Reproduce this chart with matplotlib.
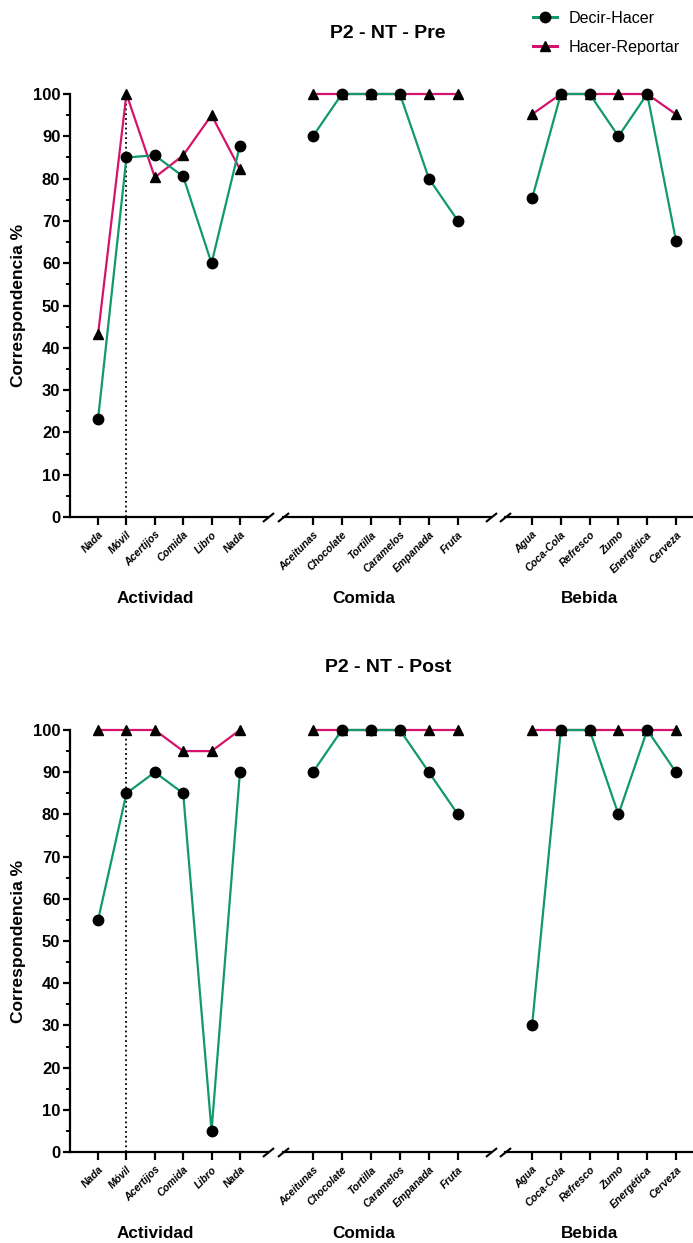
import matplotlib
matplotlib.use('Agg')
import matplotlib.pyplot as plt
from matplotlib.lines import Line2D

plt.rcParams['font.family'] = ['Liberation Sans', 'DejaVu Sans']

# Categories for each group
actividad = ['Nada', 'Móvil', 'Acertijos', 'Comida', 'Libro', 'Nada']
comida = ['Aceitunas', 'Chocolate', 'Tortilla', 'Caramelos', 'Empanada', 'Fruta']
bebida = ['Agua', 'Coca-Cola', 'Refresco', 'Zumo', 'Energética', 'Cerveza']
group_names = ['Actividad', 'Comida', 'Bebida']

# Pre values
pre_dh_act = [23.2, 85, 85.5, 80.5, 60, 87.8]
pre_hr_act = [43.2, 100, 80.3, 85.5, 95, 82.2]
pre_dh_com = [90, 100, 100, 100, 80, 70]
pre_hr_com = [100, 100, 100, 100, 100, 100]
pre_dh_beb = [75.3, 100, 100, 90, 100, 65.3]
pre_hr_beb = [95.2, 100, 100, 100, 100, 95.2]

# Post values
post_dh_act = [55, 85, 90, 85, 5, 90]
post_hr_act = [100, 100, 100, 95, 95, 100]
post_dh_com = [90, 100, 100, 100, 90, 80]
post_hr_com = [100, 100, 100, 100, 100, 100]
post_dh_beb = [30, 100, 100, 80, 100, 90]
post_hr_beb = [100, 100, 100, 100, 100, 100]

GREEN = '#12996b'
PINK = '#d5136c'
W, H = 693, 1243

fig = plt.figure(figsize=(W / 100, H / 100), dpi=100)

# x extents of the three broken pieces (pixels) and their xlims
pieces = [(70, 268, (-0.99, 5.99)), (283, 491, (-1.03, 6.14)), (505, 693, (-0.94, 5.59))]
label_x = [155, 364, 589]


def slash(ax, xpos):
    ax.plot([xpos], [0], transform=ax.transAxes, marker=[(-1, -0.8), (1, 0.8)],
            markersize=8, linestyle='none', color='k', mec='k', mew=1.5, clip_on=False)


def draw_panel(y0_px, y100_px, title, title_y, group_y, dh, hr):
    bottom = 1 - y0_px / H
    height = (y0_px - y100_px) / H
    cats = [actividad, comida, bebida]
    for g in range(3):
        x0, x1, xl = pieces[g]
        ax = fig.add_axes([x0 / W, bottom, (x1 - x0) / W, height])
        xs = list(range(len(cats[g])))
        ax.plot(xs, hr[g], color=PINK, lw=1.6, marker='^', ms=7.5, mfc='k', mec='k',
                clip_on=False, zorder=3)
        ax.plot(xs, dh[g], color=GREEN, lw=1.6, marker='o', ms=7.5, mfc='k', mec='k',
                clip_on=False, zorder=4)
        ax.set_xlim(*xl)
        ax.set_ylim(0, 100)
        ax.set_xticks(xs)
        ax.set_xticklabels(cats[g], rotation=45, ha='right', rotation_mode='anchor',
                           fontsize=7.6, fontweight='bold', fontstyle='italic')
        ax.tick_params(axis='x', length=6, width=1.6, pad=3)
        for s in ['top', 'right']:
            ax.spines[s].set_visible(False)
        ax.spines['bottom'].set_linewidth(1.6)
        if g == 0:
            ax.spines['left'].set_linewidth(1.6)
            ax.set_yticks(range(0, 101, 10))
            ax.set_yticks(range(5, 100, 10), minor=True)
            ax.set_yticklabels([str(v) for v in range(0, 101, 10)],
                               fontsize=12, fontweight='bold')
            ax.tick_params(axis='y', which='major', length=5, width=1.6, pad=2)
            ax.tick_params(axis='y', which='minor', length=3, width=1.4)
            ax.set_ylabel('Correspondencia %', fontsize=12.5, fontweight='bold', labelpad=5)
            ax.axvline(1, ymin=0, ymax=1, color='k', ls=':', lw=1.3, zorder=1)
            slash(ax, 1)
        else:
            ax.spines['left'].set_visible(False)
            ax.set_yticks([])
            slash(ax, 0)
            if g == 1:
                slash(ax, 1)
        ax.patch.set_alpha(0)
        fig.text(label_x[g] / W, 1 - group_y / H, group_names[g], ha='center',
                 va='center', fontsize=12.3, fontweight='bold')
    fig.text(388 / W, 1 - title_y / H, title, ha='center', va='center',
             fontsize=14, fontweight='bold')


draw_panel(517, 94, 'P2 - NT - Pre', 33, 598,
           [pre_dh_act, pre_dh_com, pre_dh_beb], [pre_hr_act, pre_hr_com, pre_hr_beb])
draw_panel(1152, 730, 'P2 - NT - Post', 668, 1233,
           [post_dh_act, post_dh_com, post_dh_beb], [post_hr_act, post_hr_com, post_hr_beb])

handles = [Line2D([], [], color=GREEN, lw=2.2, marker='o', ms=7.5, mfc='k', mec='k'),
           Line2D([], [], color=PINK, lw=2.2, marker='^', ms=7.5, mfc='k', mec='k')]
fig.legend(handles, ['Decir-Hacer', 'Hacer-Reportar'], loc='upper left',
           bbox_to_anchor=(520 / W, 1 + 2 / H), frameon=False, fontsize=11.6,
           handlelength=1.5, handletextpad=0.7, labelspacing=0.85, borderpad=0.3)

fig.savefig('out.png', dpi=100)
